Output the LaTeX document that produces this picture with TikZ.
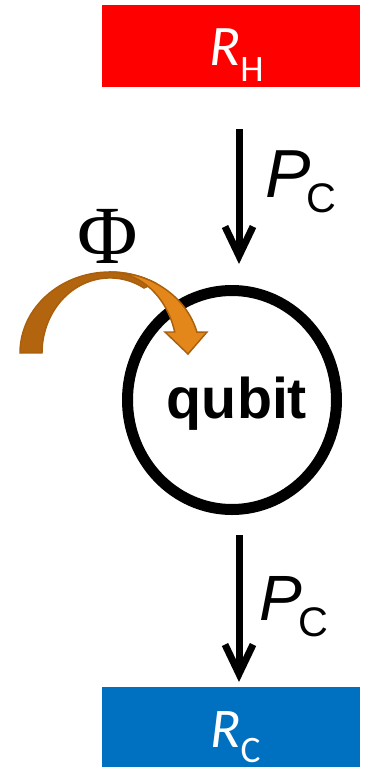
\documentclass[tikz,border=0pt]{standalone}
\usepackage{fontspec}
\setmainfont{Liberation Sans}
\newfontfamily\carlito{Carlito}
\newfontfamily\lserif{Liberation Serif}
\usetikzlibrary{arrows.meta,shapes.geometric}
\newdimen\px \px=0.75pt
\definecolor{rred}{RGB}{255,0,0}
\definecolor{rblue}{RGB}{0,112,192}
\definecolor{odark}{RGB}{178,100,14}
\definecolor{olight}{RGB}{227,135,27}
\definecolor{oline}{RGB}{170,95,12}
\begin{document}
\begin{tikzpicture}[x=0.75pt,y=-0.75pt,
  box/.style={rectangle,draw=none,minimum width=193.5pt,minimum height=61.5pt,inner sep=0},
  flow/.style={line width=5.25pt,-{Straight Barb[length=22pt,width=21pt]}},
  rlab/.style={inner sep=0,anchor=base west,text=white,font=\carlito},
  plab/.style={inner sep=0,anchor=base west},
  orng/.style={draw=oline,line width=1.1pt},
]
\useasboundingbox (0,0) rectangle (371,768);
% boxes
\node[box,fill=rred] (rh) at (231,46) {};
\node[box,fill=rblue,minimum height=60pt] (rc) at (231,727) {};
\node[rlab] (rht) at (209,65) {\fontsize{43}{43}\selectfont\itshape R\upshape\raisebox{-16\px}{\fontsize{28}{28}\selectfont H}};
\node[rlab] (rct) at (210,747) {\fontsize{42}{42}\selectfont\itshape R\upshape\raisebox{-15\px}{\fontsize{28}{28}\selectfont C}};
% qubit
\node[ellipse,draw,line width=8.25pt,minimum width=156.75pt,minimum height=164.25pt,inner sep=0] (qb) at (232,400) {};
\node[inner sep=0,anchor=base] (qt) at (237,418) {\fontsize{43}{43}\selectfont\bfseries qubit};
% arrows
\coordinate (t1) at (239,129);
\coordinate (h1) at (239,264);
\coordinate (t2) at (239,535);
\coordinate (h2) at (239,682);
\draw[flow] (t1) -- (h1);
\draw[flow] (t2) -- (h2);
\node[plab] (pc1) at (265,197) {\fontsize{51}{51}\selectfont\itshape P\upshape\kern-4\px\raisebox{-15\px}{\fontsize{31}{31}\selectfont C}};
\node[plab] (pc2) at (259,620) {\fontsize{48}{48}\selectfont\itshape P\upshape\kern-3\px\raisebox{-16\px}{\fontsize{31}{31}\selectfont C}};
% Phi
\node[inner sep=0,anchor=base] (phi) at (108,263) {\lserif\fontsize{62}{62}\selectfont Φ};
% orange curved arrow
\filldraw[orng,fill=odark] (20,353) arc[start angle=180,end angle=300,x radius=90,y radius=81]
  -- (144,288) arc[start angle=300,end angle=180,x radius=68,y radius=75] -- cycle;
\filldraw[orng,fill=olight] (110,272) arc[start angle=270,end angle=345,x radius=90,y radius=81]
  -- (207,332) -- (188,354) -- (165,332) -- (174.7,332)
  arc[start angle=345,end angle=270,x radius=67,y radius=81] -- cycle;
\end{tikzpicture}
\end{document}
